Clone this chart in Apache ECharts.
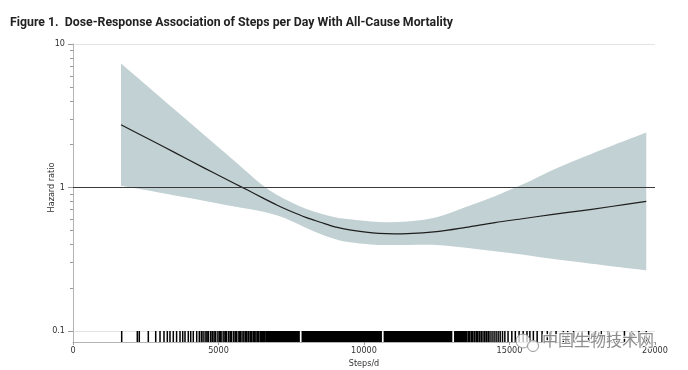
<!DOCTYPE html>
<html>
<head>
<meta charset="utf-8">
<script src="https://cdn.jsdelivr.net/npm/echarts@6/dist/echarts.min.js"></script>
<style>
html,body{margin:0;padding:0;background:#fff;}
#chart{width:688px;height:370px;}
</style>
</head>
<body>
<div id="chart"></div>
<script>
// ---- data ----
const steps = [1650, 2500, 3500, 4500, 5500, 6000, 6500, 7000, 7500, 8000, 8500, 9000, 9500, 10500, 11500, 12500, 13500, 14500, 15500, 16500, 17500, 18500, 19700];
const hazardRatio = [2.74, 2.23, 1.75, 1.37, 1.08, 0.96, 0.85, 0.755, 0.68, 0.619, 0.573, 0.532, 0.506, 0.479, 0.477, 0.492, 0.527, 0.57, 0.608, 0.65, 0.69, 0.737, 0.80];
const upperCI = [7.3, 5.2, 3.48, 2.33, 1.56, 1.27, 1.04, 0.89, 0.79, 0.71, 0.66, 0.62, 0.60, 0.575, 0.58, 0.62, 0.73, 0.87, 1.06, 1.33, 1.62, 1.95, 2.42];
const lowerCI = [1.03, 0.96, 0.88, 0.81, 0.74, 0.71, 0.68, 0.64, 0.585, 0.525, 0.475, 0.437, 0.415, 0.398, 0.398, 0.398, 0.38, 0.36, 0.34, 0.317, 0.30, 0.283, 0.265];
const referenceHR = 1;
const rugSteps = [
  1673, 2210, 2278, 2588, 2842, 2990, 3127, 3241, 3333, 3447, 3560, 3677, 3770, 3849, 3962, 4045, 4134, 4251, 4340,
  4410, 4470, 4540, 4600, 4655, 4730, 4790, 4850, 4905, 4980, 5040, 5090, 5160, 5220, 5270, 5340, 5400, 5450, 5520,
  5580, 5630, 5700, 5750, 5810, 5870, 5930, 5980, 6040, 6100, 6150, 6210, 6260, 6320, 6370, 6430, 6480,
  6530, 6575, 6630, 6680, 6720, 6770, 6820, 6870, 6915, 6960, 7010, 7060, 7110, 7150, 7200, 7250, 7300, 7345, 7390,
  7440, 7490, 7540, 7590, 7630, 7680, 7730, 7770, 7880, 7930, 7975, 8020, 8070, 8120, 8170, 8210, 8260, 8310, 8360,
  8400, 8450, 8500, 8550, 8590, 8640, 8690, 8740, 8780, 8830, 8880, 8930, 8970, 9020, 9070, 9120, 9160, 9210, 9260,
  9310, 9350, 9400, 9450, 9500, 9540, 9590, 9640, 9690, 9730, 9780, 9830, 9880, 9920, 9970, 10020, 10070, 10110,
  10160, 10210, 10260, 10300, 10350, 10400, 10450, 10490, 10540, 10590, 10700, 10750, 10800, 10840, 10890, 10940,
  10990, 11030, 11080, 11130, 11180, 11220, 11270, 11320, 11370, 11410, 11460, 11510, 11560, 11600, 11650, 11700,
  11750, 11790, 11840, 11890, 11940, 11980, 12030, 12080, 12130, 12170, 12220, 12270, 12320, 12360, 12410, 12460,
  12510, 12560, 12610, 12660, 12710, 12760, 12810, 12860, 12910, 12960, 13010, 13120, 13170, 13220, 13270, 13320,
  13370, 13420, 13470, 13520, 13580, 13630, 13690, 13740, 13800, 13860, 13910, 13970, 14030, 14090, 14150, 14210,
  14270, 14330, 14400, 14470, 14540, 14610, 14680, 14760, 14840,
  14950, 15080, 15200, 15330, 15470, 15600, 15700, 15820, 15950, 16120, 16300, 16420, 16600, 16850, 17000, 17200,
  17500, 17720, 17950, 18150, 18400, 18700, 18950, 19200, 19450, 19700
];
const xTicks = [0, 5000, 10000, 15000, 20000];
const yMinorTicks = [0.2, 0.3, 0.4, 0.5, 0.6, 0.7, 0.8, 0.9, 2, 3, 4, 5, 6, 7, 8, 9];
const titleText = 'Figure 1.  Dose-Response Association of Steps per Day With All-Cause Mortality';
const xName = 'Steps/d';
const yName = 'Hazard ratio';
const watermark = '中国生物技术网';

// ---- chart ----
const FONT = "'Liberation Sans Narrow', 'DejaVu Sans Condensed', 'Roboto', sans-serif";
const TITLE_FONT_FAMILY = "Roboto, 'Noto Sans', sans-serif";
const AXIS_GRAY = '#b4b4b4';
const chart = echarts.init(document.getElementById('chart'), null, {renderer: 'canvas'});

// fit title width to the reference's (about 443px)
const mctx = document.createElement('canvas').getContext('2d');
mctx.font = "bold 13px " + TITLE_FONT_FAMILY;
const titleScale = Math.min(1, 443 / mctx.measureText(titleText).width);

function smoothPath(pts, moveFirst) {
  let d = (moveFirst ? 'M' : 'L') + pts[0][0] + ' ' + pts[0][1];
  const n = pts.length;
  for (let i = 0; i < n - 1; i++) {
    const p0 = pts[Math.max(i - 1, 0)], p1 = pts[i], p2 = pts[i + 1], p3 = pts[Math.min(i + 2, n - 1)];
    const c1 = [p1[0] + (p2[0] - p0[0]) / 6, p1[1] + (p2[1] - p0[1]) / 6];
    const c2 = [p2[0] - (p3[0] - p1[0]) / 6, p2[1] - (p3[1] - p1[1]) / 6];
    d += ' C' + c1[0] + ' ' + c1[1] + ' ' + c2[0] + ' ' + c2[1] + ' ' + p2[0] + ' ' + p2[1];
  }
  return d;
}

const option = {
  animation: false,
  backgroundColor: '#fff',
  grid: [
    {left: 73, right: 33, top: 44, bottom: 39},
    {left: 73, right: 33, top: 331, bottom: 28}
  ],
  xAxis: [
    {type: 'value', gridIndex: 0, min: 0, max: 20000, show: false},
    {
      type: 'value', gridIndex: 1, min: 0, max: 20000, interval: 5000,
      name: xName, nameLocation: 'middle', nameGap: 17, nameMoveOverlap: false,
      nameTextStyle: {fontFamily: FONT, fontSize: 9, color: '#333'},
      axisLine: {lineStyle: {color: AXIS_GRAY, width: 1}},
      axisTick: {length: 3, lineStyle: {color: '#999'}},
      axisLabel: {fontFamily: FONT, fontSize: 9, color: '#333', margin: 4,
        formatter: v => xTicks.indexOf(v) >= 0 ? String(v) : ''},
      splitLine: {show: false}
    }
  ],
  yAxis: [
    {
      type: 'log', logBase: 10, gridIndex: 0, min: 0.1, max: 10,
      name: yName, nameLocation: 'middle', nameGap: 17, nameMoveOverlap: false,
      nameTextStyle: {fontFamily: FONT, fontSize: 9, color: '#333'},
      axisLine: {show: true, lineStyle: {color: AXIS_GRAY, width: 1}},
      axisTick: {show: true, length: 5, lineStyle: {color: '#999'}},
      axisLabel: {fontFamily: FONT, fontSize: 9, color: '#333', margin: 8,
        formatter: v => String(v)},
      splitLine: {show: true, lineStyle: {color: '#e4e4e4', width: 1}}
    },
    {
      type: 'log', logBase: 10, gridIndex: 0, min: 0.1, max: 10, position: 'left',
      axisLine: {show: false},
      axisTick: {show: true, length: 3, customValues: yMinorTicks, lineStyle: {color: '#999'}},
      axisLabel: {show: false},
      splitLine: {show: false}
    },
    {
      type: 'value', gridIndex: 1, min: 0, max: 1,
      axisLine: {show: true, lineStyle: {color: AXIS_GRAY, width: 1}},
      axisTick: {show: false}, axisLabel: {show: false}, splitLine: {show: false}
    }
  ],
  series: [
    {
      // 95% CI band
      type: 'custom', xAxisIndex: 0, yAxisIndex: 0, silent: true, z: 1,
      data: [0],
      renderItem: function (params, api) {
        const up = steps.map((s, i) => api.coord([s, upperCI[i]]));
        const lo = steps.map((s, i) => api.coord([s, lowerCI[i]])).reverse();
        const d = smoothPath(up, true) + ' ' + smoothPath(lo, false) + ' Z';
        return {type: 'path', shape: {pathData: d}, style: {fill: '#c2d1d3', stroke: null}};
      }
    },
    {
      // reference line HR = 1 (carried by an empty line series)
      type: 'line', xAxisIndex: 0, yAxisIndex: 0, z: 3, silent: true,
      data: [], symbol: 'none',
      markLine: {
        silent: true, symbol: 'none', label: {show: false},
        lineStyle: {color: '#3a3a3a', width: 1, type: 'solid'},
        data: [{yAxis: referenceHR}]
      }
    },
    {
      // hazard ratio curve
      type: 'custom', xAxisIndex: 0, yAxisIndex: 0, silent: true, z: 4,
      data: [0],
      renderItem: function (params, api) {
        const pts = steps.map((s, i) => api.coord([s, hazardRatio[i]]));
        return {type: 'path', shape: {pathData: smoothPath(pts, true)},
          style: {fill: null, stroke: '#1e1e1e', lineWidth: 1.2}};
      }
    },
    {
      // rug of participants' step counts, drawn as one compound path
      type: 'custom', xAxisIndex: 1, yAxisIndex: 2, silent: true, z: 2,
      data: [0],
      renderItem: function (params, api) {
        let d = '';
        rugSteps.forEach(s => {
          const top = api.coord([s, 1]);
          const bot = api.coord([s, 0]);
          d += 'M' + top[0] + ' ' + top[1] + ' L' + bot[0] + ' ' + bot[1] + ' ';
        });
        return {type: 'path', shape: {pathData: d},
          style: {fill: null, stroke: '#000', lineWidth: 1.5}};
      }
    }
  ],
  graphic: [
    {type: 'text', x: 10, y: 16, scaleX: titleScale, z: 100, silent: true,
      style: {text: titleText, font: "bold 13px " + TITLE_FONT_FAMILY, fill: '#222'}},
    {type: 'text', left: 541, top: 331, z: 100, silent: true,
      style: {text: watermark, font: "16px 'Noto Sans CJK SC'", fill: '#7a7a7a', opacity: 0.85,
        stroke: '#fff', lineWidth: 2}},
    {type: 'circle', z: 100, silent: true, shape: {cx: 523, cy: 341, r: 7},
      style: {fill: 'rgba(255,255,255,0.75)', stroke: '#999', lineWidth: 1}},
    {type: 'circle', z: 100, silent: true, shape: {cx: 533, cy: 346, r: 5.5},
      style: {fill: 'rgba(255,255,255,0.75)', stroke: '#999', lineWidth: 1}}
  ]
};
chart.setOption(option);
</script>
</body>
</html>
